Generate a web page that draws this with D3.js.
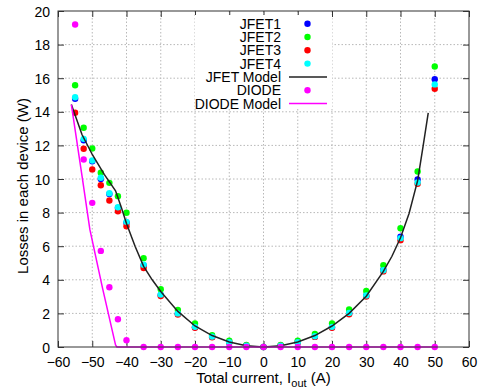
<!DOCTYPE html>
<html>
<head>
<meta charset="utf-8">
<script src="https://cdn.jsdelivr.net/npm/d3@7"></script>
<style>
  body { margin: 0; background: #fff; }
  svg { font-family: "Liberation Sans", Arial, sans-serif; }
</style>
</head>
<body>
<svg id="chart"></svg>
<script>
// set up constants
const width = 478;
const height = 390;
const margin = { top: 11, right: 9, bottom: 43, left: 58 };
const innerWidth = width - margin.left - margin.right;
const innerHeight = height - margin.top - margin.bottom;

// data
const current = [-55, -52.5, -50, -47.5, -45, -42.5, -40, -35, -30, -25, -20, -15, -10, -5, 0,
  5, 10, 15, 20, 25, 30, 35, 40, 45, 50];
const jfet1 = [14.77, 12.3, 11.05, 10.0, 9.1, 8.28, 7.4, 4.85, 3.1, 1.98, 1.18, 0.6, 0.28, 0.07, 0,
  0.07, 0.28, 0.62, 1.18, 2.0, 3.05, 4.6, 6.56, 9.97, 15.94];
const jfet2 = [15.58, 13.05, 11.82, 10.37, 9.77, 8.98, 7.99, 5.29, 3.44, 2.2, 1.4, 0.7, 0.37, 0.12, 0,
  0.12, 0.37, 0.78, 1.4, 2.23, 3.34, 4.87, 7.07, 10.45, 16.7];
const jfet3 = [13.94, 11.8, 10.57, 9.63, 8.72, 8.08, 7.19, 4.7, 3.03, 1.93, 1.15, 0.58, 0.27, 0.07, 0,
  0.07, 0.27, 0.6, 1.15, 1.95, 3.0, 4.5, 6.36, 9.71, 15.37];
const jfet4 = [14.87, 12.39, 11.1, 10.07, 9.15, 8.32, 7.45, 4.9, 3.12, 2.0, 1.2, 0.62, 0.29, 0.08, 0,
  0.08, 0.29, 0.64, 1.2, 2.03, 3.07, 4.57, 6.48, 9.79, 15.63];

const diodeCurrent = [-55, -52.5, -50, -47.5, -45, -42.5, -40, -35, -30, -25, -20, -15, -10, -5, 0,
  5, 10, 15, 20, 25, 30, 35, 40, 45, 50];
const diode = [19.2, 11.16, 8.58, 5.72, 3.56, 1.65, 0.4, 0, 0, 0, 0, 0, 0, 0, 0,
  0, 0, 0, 0, 0, 0, 0, 0, 0, 0];

const jfetModelCurrent = [-56.1, -53, -50, -46.5, -43.2, -41.5, -40, -37.5, -35, -32.5, -30, -25, -20,
  -15, -10, -5, 0, 5, 10, 15, 20, 25, 30, 35, 37.5, 40, 42.5, 45, 46.6, 48.1];
const jfetModel = [14.43, 12.65, 11.46, 10.27, 9.3, 8.3, 7.35, 6.0, 4.8, 4.0, 3.3, 2.12, 1.25,
  0.68, 0.3, 0.08, 0, 0.08, 0.3, 0.68, 1.25, 2.0, 3.02, 4.5, 5.4, 6.5, 7.95, 9.9, 11.95, 13.94];

const diodeModelCurrent = [-56.1, -53, -50.7, -47, -43.2, -42.8, 50];
const diodeModel = [14.43, 10.2, 7.0, 3.5, 0.12, 0, 0];

const xTicks = [-60, -50, -40, -30, -20, -10, 0, 10, 20, 30, 40, 50, 60];
const yTicks = [0, 2, 4, 6, 8, 10, 12, 14, 16, 18, 20];

const series = [
  { name: 'JFET1', values: jfet1, color: '#0000ff' },
  { name: 'JFET2', values: jfet2, color: '#00ff00' },
  { name: 'JFET3', values: jfet3, color: '#ff0000' },
  { name: 'JFET4', values: jfet4, color: '#00ffff' }
];

// create SVG element
const svg = d3.select('#chart')
  .attr('width', width)
  .attr('height', height);

// create scales
const xScale = d3.scaleLinear()
  .domain([-60, 60])
  .range([0, innerWidth]);

const yScale = d3.scaleLinear()
  .domain([0, 20])
  .range([innerHeight, 0]);

const g = svg.append('g')
  .attr('transform', `translate(${margin.left}, ${margin.top})`);

// grid
g.append('g')
  .selectAll('line')
  .data(xTicks.slice(1, -1))
  .enter()
  .append('line')
  .attr('x1', d => xScale(d))
  .attr('x2', d => xScale(d))
  .attr('y1', 0)
  .attr('y2', innerHeight)
  .attr('stroke', '#b8b8b8')
  .attr('stroke-dasharray', '1.5,2');

g.append('g')
  .selectAll('line')
  .data(yTicks.slice(1, -1))
  .enter()
  .append('line')
  .attr('x1', 0)
  .attr('x2', innerWidth)
  .attr('y1', d => yScale(d))
  .attr('y2', d => yScale(d))
  .attr('stroke', '#b8b8b8')
  .attr('stroke-dasharray', '1.5,2');

// create axis (ticks pointing inward, mirrored)
const tickLen = 6;
const xAxis = d3.axisBottom(xScale).tickValues(xTicks).tickSizeInner(-tickLen).tickSizeOuter(0).tickPadding(10);
const yAxis = d3.axisLeft(yScale).tickValues(yTicks).tickSizeInner(-tickLen).tickSizeOuter(0).tickPadding(8);
const xAxisTop = d3.axisTop(xScale).tickValues(xTicks).tickSizeInner(-tickLen).tickSizeOuter(0);
const yAxisRight = d3.axisRight(yScale).tickValues(yTicks).tickSizeInner(-tickLen).tickSizeOuter(0);

function styleAxis(sel) {
  sel.select('.domain').remove();
  sel.selectAll('.tick line').attr('stroke', '#333');
  sel.selectAll('.tick text')
    .attr('fill', '#000')
    .style('font-size', '14px')
    .style('font-family', '"Liberation Sans", Arial, sans-serif');
}

g.append('g')
  .attr('transform', `translate(0, ${innerHeight})`)
  .call(xAxis)
  .call(styleAxis);

g.append('g')
  .call(yAxis)
  .call(styleAxis)
  .selectAll('.tick text')
  .attr('dy', '0.36em');

// mirrored ticks only, no labels
g.append('g')
  .call(xAxisTop)
  .call(styleAxis)
  .selectAll('.tick text').remove();

g.append('g')
  .attr('transform', `translate(${innerWidth}, 0)`)
  .call(yAxisRight)
  .call(styleAxis)
  .selectAll('.tick text').remove();

// model lines
const line = d3.line()
  .x(d => xScale(d[0]))
  .y(d => yScale(d[1]));

// legend box blanks grid behind it
g.append('rect')
  .attr('x', 195 - margin.left)
  .attr('y', 15 - margin.top)
  .attr('width', 137)
  .attr('height', 94)
  .attr('fill', '#fff');

// points
const plot = g.append('g');
series.forEach(s => {
  plot.append('g')
    .selectAll('circle')
    .data(current.map((c, i) => [c, s.values[i]]))
    .enter()
    .append('circle')
    .attr('cx', d => xScale(d[0]))
    .attr('cy', d => yScale(d[1]))
    .attr('r', 3.2)
    .attr('fill', s.color);
});

plot.append('path')
  .datum(jfetModelCurrent.map((c, i) => [c, jfetModel[i]]))
  .attr('d', line)
  .attr('fill', 'none')
  .attr('stroke', '#222')
  .attr('stroke-width', 1.5);

plot.append('g')
  .selectAll('circle')
  .data(diodeCurrent.map((c, i) => [c, diode[i]]))
  .enter()
  .append('circle')
  .attr('cx', d => xScale(d[0]))
  .attr('cy', d => yScale(d[1]))
  .attr('r', 3.2)
  .attr('fill', '#ff00ff');

plot.append('path')
  .datum(diodeModelCurrent.map((c, i) => [c, diodeModel[i]]))
  .attr('d', line)
  .attr('fill', 'none')
  .attr('stroke', '#ff00ff')
  .attr('stroke-width', 1.5);

// border
g.append('rect')
  .attr('width', innerWidth)
  .attr('height', innerHeight)
  .attr('fill', 'none')
  .attr('stroke', '#333')
  .attr('stroke-width', 1);

// legend
const legendItems = [
  { name: 'JFET1', color: '#0000ff', type: 'point' },
  { name: 'JFET2', color: '#00ff00', type: 'point' },
  { name: 'JFET3', color: '#ff0000', type: 'point' },
  { name: 'JFET4', color: '#00ffff', type: 'point' },
  { name: 'JFET Model', color: '#222', type: 'line' },
  { name: 'DIODE', color: '#ff00ff', type: 'point' },
  { name: 'DIODE Model', color: '#ff00ff', type: 'line' }
];

const legend = svg.append('g');
legendItems.forEach((item, i) => {
  const y = 23.7 + i * 13.3;
  legend.append('text')
    .attr('x', 281)
    .attr('y', y)
    .attr('dy', '0.36em')
    .attr('text-anchor', 'end')
    .style('font-size', '14px')
    .text(item.name);
  if (item.type === 'point') {
    legend.append('circle')
      .attr('cx', 307.5)
      .attr('cy', y)
      .attr('r', 3.2)
      .attr('fill', item.color);
  } else {
    legend.append('line')
      .attr('x1', 289)
      .attr('x2', 327)
      .attr('y1', y)
      .attr('y2', y)
      .attr('stroke', item.color)
      .attr('stroke-width', 1.5);
  }
});

// axis titles
const xTitle = svg.append('text')
  .attr('x', margin.left + xScale(0))
  .attr('y', 383)
  .attr('text-anchor', 'middle')
  .style('font-size', '15px');
xTitle.append('tspan').text('Total current, I');
xTitle.append('tspan').attr('dy', 4).style('font-size', '11px').text('out');
xTitle.append('tspan').attr('dy', -4).text(' (A)');

svg.append('text')
  .attr('transform', 'translate(28, 186) rotate(-90)')
  .attr('text-anchor', 'middle')
  .style('font-size', '15px')
  .text('Losses in each device (W)');
</script>
</body>
</html>
